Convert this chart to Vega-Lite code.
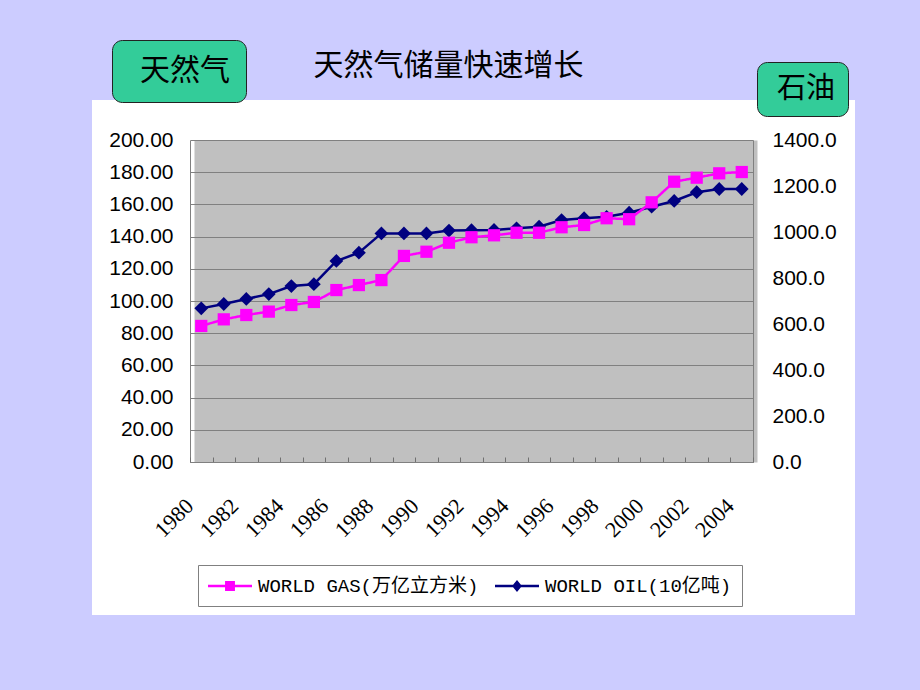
{
  "$schema": "https://vega.github.io/schema/vega-lite/v6.json",
  "width": 763,
  "height": 515,
  "autosize": {"type": "none"},
  "padding": {"left": 92, "top": 100, "right": 65, "bottom": 75},
  "background": "#ccccff",
  "config": {
    "view": {"fill": "white", "stroke": null},
    "axis": {"labelColor": "black", "title": null}
  },
  "title": {
    "text": "天然气储量快速增长",
    "font": "Noto Sans CJK SC",
    "fontSize": 30,
    "fontWeight": "normal",
    "color": "black",
    "anchor": "middle",
    "frame": "group",
    "baseline": "bottom",
    "dx": -25,
    "offset": -71
  },
  "data": {
    "values": [
      {"year": 1980, "gas": 84.5, "oil": 668},
      {"year": 1981, "gas": 88.6, "oil": 687},
      {"year": 1982, "gas": 91.3, "oil": 709},
      {"year": 1983, "gas": 93.4, "oil": 730},
      {"year": 1984, "gas": 97.5, "oil": 765},
      {"year": 1985, "gas": 99.4, "oil": 773},
      {"year": 1986, "gas": 106.8, "oil": 874},
      {"year": 1987, "gas": 109.9, "oil": 910},
      {"year": 1988, "gas": 113.0, "oil": 994},
      {"year": 1989, "gas": 128.0, "oil": 994},
      {"year": 1990, "gas": 130.6, "oil": 994},
      {"year": 1991, "gas": 136.2, "oil": 1006},
      {"year": 1992, "gas": 139.6, "oil": 1008},
      {"year": 1993, "gas": 140.8, "oil": 1009},
      {"year": 1994, "gas": 142.4, "oil": 1016},
      {"year": 1995, "gas": 142.4, "oil": 1023},
      {"year": 1996, "gas": 145.8, "oil": 1052},
      {"year": 1997, "gas": 147.2, "oil": 1060},
      {"year": 1998, "gas": 151.4, "oil": 1066},
      {"year": 1999, "gas": 150.8, "oil": 1084},
      {"year": 2000, "gas": 161.3, "oil": 1110},
      {"year": 2001, "gas": 174.1, "oil": 1135},
      {"year": 2002, "gas": 176.6, "oil": 1173},
      {"year": 2003, "gas": 179.3, "oil": 1187},
      {"year": 2004, "gas": 180.1, "oil": 1187}
    ]
  },
  "encoding": {
    "x": {
      "field": "year",
      "type": "ordinal",
      "scale": {"type": "band", "range": [98, 661], "paddingInner": 0, "paddingOuter": 0},
      "axis": {
        "orient": "bottom",
        "offset": -153,
        "zindex": 1,
        "title": null,
        "grid": false,
        "labelAngle": -45,
        "labelAlign": "right",
        "labelBaseline": "middle",
        "labelFont": "Liberation Serif",
        "labelFontSize": 22,
        "labelPadding": 45,
        "labelOffset": -12,
        "labelOverlap": false,
        "labelExpr": "datum.value % 2 === 0 ? datum.label : ''",
        "ticks": true,
        "tickBand": "extent",
        "tickSize": -5,
        "tickColor": "#707070",
        "domainColor": "#808080",
        "domainWidth": 1
      }
    }
  },
  "layer": [
    {
      "encoding": {
        "y": {
          "field": "oil",
          "type": "quantitative",
          "scale": {"domain": [0, 1400], "range": [362, 40], "nice": false, "zero": true},
          "axis": {
            "orient": "right",
            "offset": -102,
            "title": null,
            "values": [0, 200, 400, 600, 800, 1000, 1200, 1400, 700],
            "labelExpr": "datum.value === 700 ? '' : format(datum.value, '.1f')",
            "labelFont": "Liberation Sans",
            "labelFontSize": 21,
            "labelPadding": 19,
            "ticks": false,
            "grid": true,
            "gridColor": "#c0c0c0",
            "gridWidth": {"condition": {"test": "datum.value === 700", "value": 322}, "value": 0},
            "domainColor": "#808080",
            "domainWidth": 1
          }
        }
      },
      "layer": [
        {
          "mark": {"type": "point", "filled": true, "size": 484, "opacity": 0},
          "encoding": {
            "color": {
              "datum": "WORLD OIL(10亿吨)",
              "scale": {"domain": ["WORLD GAS(万亿立方米)", "WORLD OIL(10亿吨)"], "range": ["#ff00ff", "#000080"]},
              "legend": {
                "orient": "none",
                "legendX": 106,
                "legendY": 465,
                "direction": "horizontal",
                "title": null,
                "fillColor": "white",
                "strokeColor": "#808080",
                "padding": 10,
                "columnPadding": 16,
                "labelFont": "Liberation Mono, Noto Sans CJK SC",
                "labelFontSize": 19,
                "labelColor": "black",
                "labelLimit": 400,
                "labelOffset": 28,
                "symbolSize": 484,
                "symbolStrokeWidth": 0,
                "symbolOpacity": 1
              }
            },
            "shape": {
              "datum": "WORLD OIL(10亿吨)",
              "scale": {
                "domain": ["WORLD GAS(万亿立方米)", "WORLD OIL(10亿吨)"],
                "range": [
                  "M-1,-0.11H3V0.11H-1ZM0.55,-0.45H1.45V0.45H0.55Z",
                  "M-1,-0.11H3V0.11H-1ZM1,-0.55L1.45,0L1,0.55L0.55,0Z"
                ]
              },
              "legend": null
            }
          }
        },
        {
          "mark": {"type": "line", "strokeWidth": 2.5, "color": "#000080"},
          "encoding": {
            "opacity": {
              "datum": "石油",
              "scale": {"range": [1, 1]},
              "legend": {
                "orient": "none",
                "legendX": 665,
                "legendY": -38,
                "title": null,
                "fillColor": "#33cc99",
                "strokeColor": "#222222",
                "cornerRadius": 10,
                "padding": 12,
                "labelFont": "Noto Sans CJK SC",
                "labelFontSize": 29,
                "labelColor": "black",
                "labelOffset": -21,
                "labelLimit": 300,
                "symbolSize": 0,
                "symbolOpacity": 0,
                "symbolStrokeWidth": 0
              }
            }
          }
        },
        {
          "mark": {"type": "point", "filled": true, "shape": "diamond", "size": 190, "opacity": 1, "color": "#000080"}
        }
      ]
    },
    {
      "encoding": {
        "y": {
          "field": "gas",
          "type": "quantitative",
          "scale": {"domain": [0, 200], "range": [362, 40], "nice": false, "zero": true},
          "axis": {
            "orient": "left",
            "offset": -98,
            "title": null,
            "values": [0, 20, 40, 60, 80, 100, 120, 140, 160, 180, 200],
            "format": ".2f",
            "labelFont": "Liberation Sans",
            "labelFontSize": 21,
            "labelPadding": 17,
            "ticks": false,
            "grid": true,
            "gridColor": "#808080",
            "gridWidth": 1,
            "domainColor": "#808080",
            "domainWidth": 1
          }
        }
      },
      "layer": [
        {
          "mark": {"type": "point", "filled": true, "size": 484, "opacity": 0},
          "encoding": {
            "color": {
              "datum": "WORLD GAS(万亿立方米)",
              "legend": {
                "orient": "none",
                "legendX": 106,
                "legendY": 465,
                "direction": "horizontal",
                "title": null,
                "fillColor": "white",
                "strokeColor": "#808080",
                "padding": 10,
                "columnPadding": 16,
                "labelFont": "Liberation Mono, Noto Sans CJK SC",
                "labelFontSize": 19,
                "labelColor": "black",
                "labelLimit": 400,
                "labelOffset": 28,
                "symbolSize": 484,
                "symbolStrokeWidth": 0,
                "symbolOpacity": 1
              }
            },
            "shape": {"datum": "WORLD GAS(万亿立方米)", "legend": null}
          }
        },
        {
          "mark": {"type": "line", "strokeWidth": 2.5, "color": "#ff00ff"},
          "encoding": {
            "strokeDash": {
              "datum": "天然气",
              "scale": {"range": [[1, 0]]},
              "legend": {
                "orient": "none",
                "legendX": 20,
                "legendY": -60,
                "title": null,
                "fillColor": "#33cc99",
                "strokeColor": "#222222",
                "cornerRadius": 10,
                "padding": 16,
                "labelFont": "Noto Sans CJK SC",
                "labelFontSize": 30,
                "labelColor": "black",
                "labelOffset": -18,
                "labelLimit": 300,
                "symbolSize": 0,
                "symbolOpacity": 0,
                "symbolStrokeWidth": 0
              }
            }
          }
        },
        {
          "mark": {"type": "point", "filled": true, "shape": "square", "size": 150, "opacity": 1, "color": "#ff00ff"}
        }
      ]
    }
  ],
  "resolve": {"scale": {"y": "independent"}}
}
